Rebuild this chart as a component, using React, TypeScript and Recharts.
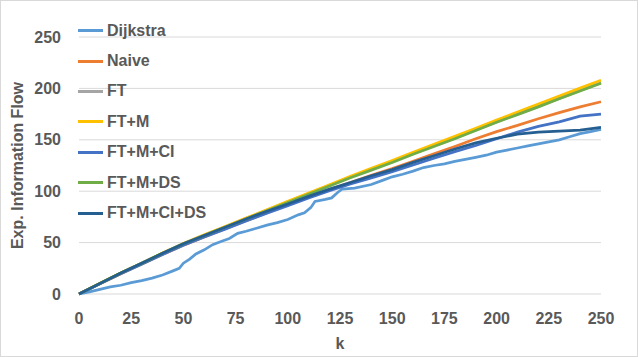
import { LineChart, Line, XAxis, YAxis, CartesianGrid, Legend } from 'recharts';

const xTicks = [0, 25, 50, 75, 100, 125, 150, 175, 200, 225, 250];
const yTicks = [0, 50, 100, 150, 200, 250];

// Dijkstra is jagged, so it keeps its own k positions
const dijkstraK = [0, 5, 10, 15, 20, 25, 30, 35, 40, 45, 48, 50, 53, 56, 60, 64, 68, 72, 76, 80, 85, 90, 95, 100, 105, 108, 111, 113, 118, 121, 124, 126, 132, 140, 146, 150, 155, 160, 165, 170, 175, 180, 185, 190, 195, 200, 205, 210, 215, 220, 225, 230, 235, 240, 245, 250];
const dijkstra = [0, 2, 4.5, 7, 8.5, 11, 13, 15.5, 18.5, 22.5, 25, 30, 34, 39, 43, 48, 51, 54, 59, 61, 64, 67, 69.5, 72.5, 77, 79, 84, 90, 92, 93.5, 99, 102, 103, 106.5, 111, 114, 116.5, 119.5, 123, 125, 126.5, 129, 131, 133, 135, 138, 140, 142, 144, 146, 148, 150, 153, 156, 158, 160];

// the other series, every 10 k
const k10 = [0, 10, 20, 30, 40, 50, 60, 70, 80, 90, 100, 110, 120, 130, 140, 150, 160, 170, 180, 190, 200, 210, 220, 230, 240, 250];
const naive = [0, 10, 19.8, 29.2, 38.5, 47.5, 55.5, 63.5, 71.3, 79, 87, 94.5, 101.5, 108.5, 115.5, 122, 129, 136.5, 143.5, 151, 158, 164, 170.5, 176.5, 182, 187];
const ft = [0, 10.3, 20.4, 30, 39.6, 49, 57.3, 65.5, 73.6, 81.7, 89.8, 97.8, 105.8, 113.8, 121.3, 128.8, 136.7, 144.2, 151.7, 159.5, 167.4, 175, 182.5, 190.3, 198, 205.5];
const ftM = [0, 10.4, 20.5, 30.2, 39.8, 49.2, 57.5, 65.7, 73.8, 82, 90.2, 98.3, 106.3, 114.4, 122.2, 129.8, 137.9, 145.6, 153.3, 161.3, 169.3, 177, 184.7, 192.6, 200.3, 208];
const ftMCi = [0, 10, 19.8, 29, 38.5, 47.5, 55.5, 63, 71, 78.5, 86, 93.5, 100.5, 107, 113, 119, 125.5, 132, 138.5, 144.5, 151, 157.5, 163, 167.5, 173, 175];
const ftMDs = [0, 10.3, 20.4, 30, 39.6, 48.8, 57, 65, 73, 81, 89, 97, 105, 113, 120.5, 128, 136, 143.5, 151, 159, 167, 174.5, 182, 190, 197.5, 205];
const ftMCiDs = [0, 10.3, 20.4, 30, 39.6, 48.8, 57, 65, 73, 80.5, 87.5, 95, 102, 108.5, 115, 121, 128, 134.5, 141, 147, 151.5, 155.5, 157.5, 158.5, 159.5, 162];

const toPoints = (ks: number[], vs: number[]) => ks.map((k, i) => ({ k, v: vs[i] }));

const SERIES = [
  { name: 'Dijkstra', color: '#5B9BD5', data: toPoints(dijkstraK, dijkstra) },
  { name: 'Naive', color: '#ED7D31', data: toPoints(k10, naive) },
  { name: 'FT', color: '#A5A5A5', data: toPoints(k10, ft) },
  { name: 'FT+M', color: '#FFC000', data: toPoints(k10, ftM) },
  { name: 'FT+M+CI', color: '#4472C4', data: toPoints(k10, ftMCi) },
  { name: 'FT+M+DS', color: '#70AD47', data: toPoints(k10, ftMDs) },
  { name: 'FT+M+CI+DS', color: '#255E91', data: toPoints(k10, ftMCiDs) },
];

const FONT = '"Liberation Sans", Arial, sans-serif';
const TEXT = '#595959';
const tickStyle = { fill: TEXT, fontSize: 16, fontWeight: 'bold', fontFamily: FONT };

// recharts sorts legend payload by name, so put it back in series order
const renderLegend = ({ payload }: any) => {
  const order = SERIES.map((s) => s.name);
  const items = [...(payload || [])].sort((a: any, b: any) => order.indexOf(a.value) - order.indexOf(b.value));
  return (
    <div>
      {items.map((p: any) => (
        <div key={p.value} style={{ display: 'flex', alignItems: 'center', height: 30.4 }}>
          <span style={{ display: 'inline-block', width: 25, height: 3, background: p.color, marginRight: 4 }} />
          <span style={{ font: `bold 16px ${FONT}`, color: TEXT, whiteSpace: 'nowrap' }}>{p.value}</span>
        </div>
      ))}
    </div>
  );
};

const yTitle = ({ viewBox }: any) => {
  const cx = viewBox.x + 17;
  const cy = viewBox.y + viewBox.height / 2;
  return (
    <text x={cx} y={cy} transform={`rotate(-90, ${cx}, ${cy})`} textAnchor="middle" dominantBaseline="central"
      fill={TEXT} fontSize={16} fontWeight="bold" fontFamily={FONT}>
      Exp. Information Flow
    </text>
  );
};

const xTitle = ({ viewBox }: any) => (
  <text x={viewBox.x + viewBox.width / 2} y={viewBox.y + 55} textAnchor="middle"
    fill={TEXT} fontSize={16} fontWeight="bold" fontFamily={FONT}>
    k
  </text>
);

export default function App() {
  return (
    <div style={{ position: 'absolute', left: 0, top: 0, width: 638, height: 357, background: '#fff' }}>
      <LineChart width={638} height={357} margin={{ top: 37, right: 37, bottom: 0, left: 0 }}>
        <CartesianGrid horizontal vertical={false} stroke="#d9d9d9" strokeWidth={1} />
        <XAxis dataKey="k" type="number" domain={[0, 250]} ticks={xTicks} interval={0} height={63}
          axisLine={false} tickLine={false} tickSize={0} tickMargin={19} tick={tickStyle} label={xTitle} />
        <YAxis type="number" domain={[0, 250]} ticks={yTicks} interval={0} width={79}
          axisLine={false} tickLine={false} tickSize={0} tickMargin={18} tick={tickStyle} label={yTitle} />
        <Legend layout="vertical" align="center" verticalAlign="middle" content={renderLegend}
          wrapperStyle={{ left: 78, top: 15.5, width: 170 }} />
        {SERIES.map((s) => (
          <Line key={s.name} name={s.name} data={s.data} dataKey="v" type="linear" stroke={s.color}
            strokeWidth={2.75} dot={false} activeDot={false} isAnimationActive={false} />
        ))}
      </LineChart>
      <div style={{ position: 'absolute', left: 0, top: 0, width: 638, height: 357, boxSizing: 'border-box', border: '1px solid #d9d9d9', pointerEvents: 'none' }} />
    </div>
  );
}
